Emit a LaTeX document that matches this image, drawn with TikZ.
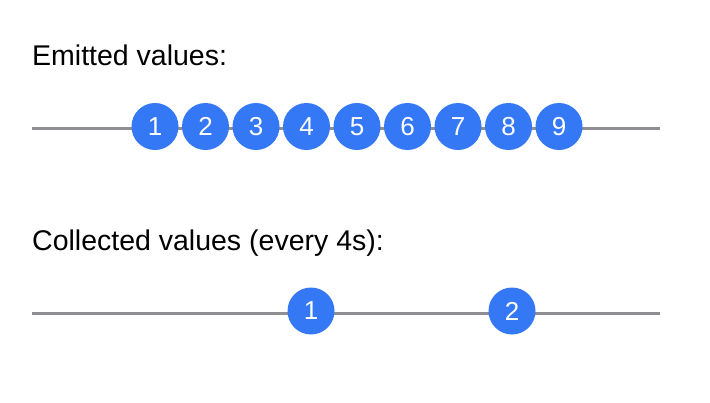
\documentclass[tikz,border=0pt]{standalone}
\usepackage{fontspec}
\setmainfont{Liberation Sans}
\pgfdeclarelayer{bg}
\pgfsetlayers{bg,main}
\definecolor{marbleblue}{RGB}{52,120,246}
\definecolor{linegray}{RGB}{142,142,147}
\tikzset{
    marble/.style={circle, inner sep=0mm, fill=marbleblue, text=white, minimum size=47pt, font=\fontsize{26}{28}\selectfont}
}
\tikzset{caption/.style={anchor=base west, inner sep=0mm, font=\fontsize{28.5}{34}\selectfont}}
\tikzset{timeline/.style={draw=linegray, line width=3pt}}

\begin{document}
\begin{tikzpicture}[x=1pt, y=-1pt]
        \useasboundingbox (0,0) rectangle (710,402);
        \node (t0) [caption] at (32,65) {Emitted values:};
        \node (t1) [caption] at (32,250) {Collected values (every 4s):};
        \coordinate (s0) at (32,128.5);
        \coordinate (s1) at (660,128.5);
        \coordinate (r0) at (32,313);
        \coordinate (r1) at (660,313);
        \node (e1) [marble] at (155,126.5) {1};
        \node (e2) [marble] at (205.5,126.5) {2};
        \node (e3) [marble] at (256,126.5) {3};
        \node (e4) [marble] at (306.5,126.5) {4};
        \node (e5) [marble] at (357,126.5) {5};
        \node (e6) [marble] at (407.5,126.5) {6};
        \node (e7) [marble] at (458,126.5) {7};
        \node (e8) [marble] at (508.5,126.5) {8};
        \node (e9) [marble] at (559,126.5) {9};
        \node (c1) [marble] at (311,311) {1};
        \node (c2) [marble] at (512,311) {2};
        \begin{pgfonlayer}{bg}
                \draw [timeline] (s0) -- (s1);
                \draw [timeline] (r0) -- (r1);
        \end{pgfonlayer}
\end{tikzpicture}
\end{document}
